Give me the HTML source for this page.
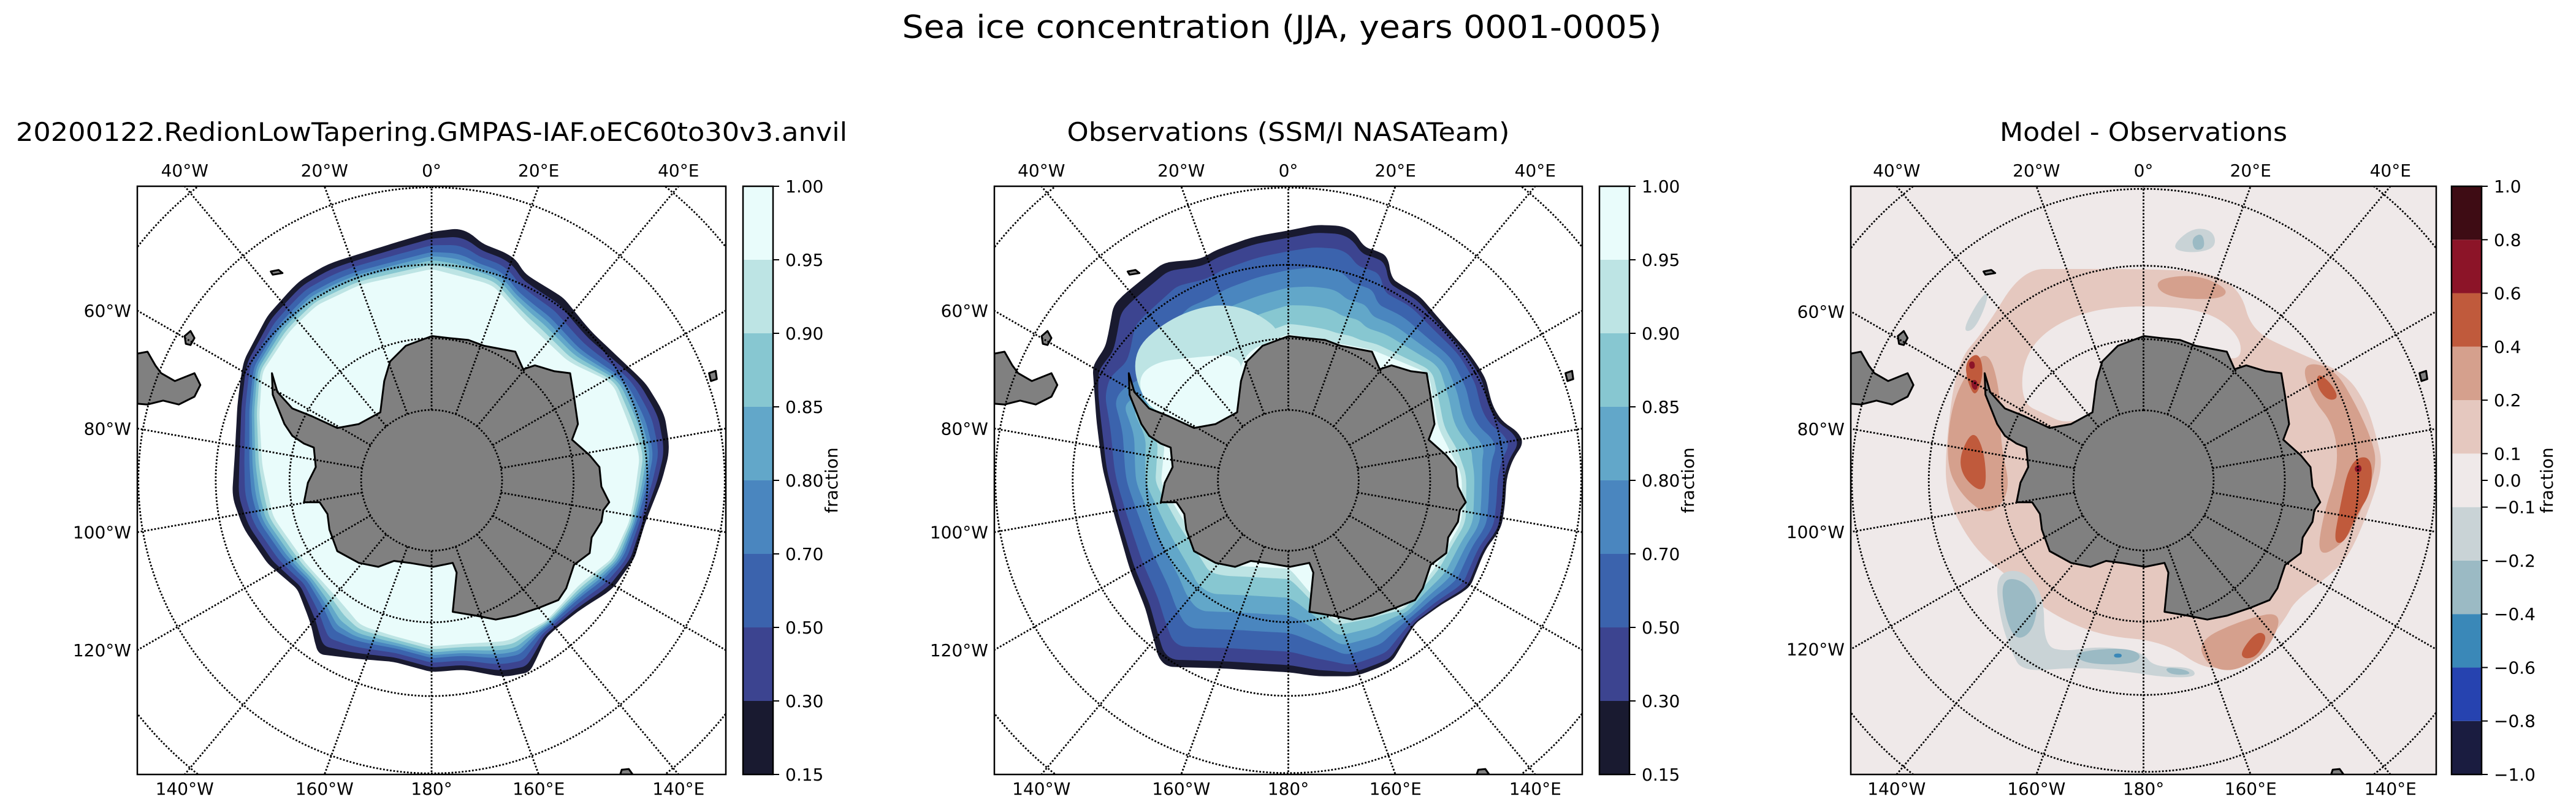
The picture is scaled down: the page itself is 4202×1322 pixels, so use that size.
<!DOCTYPE html>
<html><head><meta charset="utf-8"><style>
html,body{margin:0;padding:0;background:#fff;width:4202px;height:1322px;overflow:hidden;}
svg{display:block;font-family:"DejaVu Sans","Liberation Sans",sans-serif;}
</style></head><body>
<svg id="fig" width="4202" height="1322" viewBox="0 0 4202 1322" xmlns="http://www.w3.org/2000/svg" overflow="hidden">
<rect width="4202" height="1322" fill="#fff"/>
<text x="2091" y="62" font-size="52" text-anchor="middle" textLength="1239" lengthAdjust="spacingAndGlyphs">Sea ice concentration (JJA, years 0001-0005)</text>
<g id="panels"></g>
</svg>
<script>
// ---- data ----
const iceLevels = [0.15, 0.3, 0.5, 0.7, 0.8, 0.85, 0.9, 0.95, 1.0];
const iceLabels = ["0.15","0.30","0.50","0.70","0.80","0.85","0.90","0.95","1.00"];
const iceColors = ["#191a30","#3c4490","#3b63ad","#4a86bf","#62a7c9","#87c7d1","#bde4e4","#e9fcfb"];
const diffLevels = [-1,-0.8,-0.6,-0.4,-0.2,-0.1,0.1,0.2,0.4,0.6,0.8,1.0];
const diffColors = ["#1a1c40","#2643b0","#3a88b8","#9bbac4","#c9d3d6","#efe9e9","#e5c8bf","#d5a08d","#c05a3c","#8c1428","#3e0c14"];
const diffTickVals = [-1,-0.8,-0.6,-0.4,-0.2,-0.1,0,0.1,0.2,0.4,0.6,0.8,1.0];
const diffTickLabels = ["\u22121.0","\u22120.8","\u22120.6","\u22120.4","\u22120.2","\u22120.1","0.0","0.1","0.2","0.4","0.6","0.8","1.0"];
const latCircles = [-80,-70,-60,-50,-40];
const topLons = [-40,-20,0,20,40];
const topLabels = ["40°W","20°W","0°","20°E","40°E"];
const leftLons = [-60,-80,-100,-120];
const leftLabels = ["60°W","80°W","100°W","120°W"];
const bottomLons = [-140,-160,180,160,140];
const bottomLabels = ["140°W","160°W","180°","160°E","140°E"];
const panelTitles = ["20200122.RedionLowTapering.GMPAS-IAF.oEC60to30v3.anvil","Observations (SSM/I NASATeam)","Model - Observations"];
const titleWidths = [1356, 722, 469];
const modelBandT = [1, 0.82, 0.64, 0.46, 0.35, 0.24, 0.12, 0];
const obsBandT = [1, 0.93, 0.8, 0.62, 0.45, 0.28, 0.1, 0];

// ---- geometry (zoom frames -> normalized) ----
const F = {
  z1:[252,360,1075,1138], z8:[34,22,1504,1504], z2:[246,360,1072,1138]
};
function norm(fr, a){const f=F[fr];const o=[];for(let i=0;i<a.length;i+=2)o.push([(a[i]-f[0])/f[2],(a[i+1]-f[1])/f[3]]);return o;}

const coast = norm('z8',[787,405,830,410,880,415,920,430,1000,445,1020,490,1050,480,1100,495,1140,500,1150,560,1160,630,1145,670,1190,710,1215,740,1220,790,1240,830,1225,850,1220,880,1195,920,1190,960,1150,990,1130,1050,1110,1080,1060,1100,1000,1120,950,1130,900,1120,840,1110,845,1060,850,1010,840,985,790,995,730,985,690,980,650,995,600,985,545,955,525,900,520,860,500,830,460,830,470,780,490,740,485,690,460,680,430,660,410,630,390,580,380,555,378,500,392,548,430,590,480,610,545,640,600,630,655,600,665,520,680,470,720,430]);
const samerica = norm('z8',[34,450,60,445,80,480,95,500,130,520,180,500,195,530,180,560,140,580,100,570,60,580,34,578]);
const islands = [
  norm('z8',[155,405,170,392,180,410,170,428,158,425]),
  norm('z8',[375,240,395,236,405,244,380,248]),
  norm('z8',[1495,500,1512,494,1515,515,1500,520]),
  norm('z8',[1268,1526,1272,1514,1290,1512,1300,1526])
];
const modelOuter = norm('z1',[790,448,850,440,880,470,940,495,960,530,1030,575,1080,640,1130,690,1180,740,1215,800,1225,870,1210,930,1180,1010,1160,1080,1120,1140,1060,1180,1000,1230,970,1300,920,1310,850,1295,790,1300,720,1280,660,1275,580,1265,570,1210,545,1140,490,1090,445,1020,425,960,430,880,435,780,445,700,490,610,545,545,600,510,660,490,720,470]);
const modelInner = norm('z1',[790,520,900,550,960,620,1040,700,1120,740,1150,820,1170,880,1160,960,1150,1010,1120,1080,1060,1130,1000,1200,930,1240,850,1245,790,1250,720,1230,660,1210,620,1160,560,1090,500,1000,480,900,475,800,480,720,530,640,580,590,660,550]);
const obsOuter = norm('z8',[787,135,860,120,950,125,970,175,1040,195,1050,260,1120,300,1180,370,1250,450,1290,510,1310,590,1340,630,1400,665,1370,700,1345,760,1340,840,1330,900,1290,950,1250,1050,1180,1090,1110,1140,1050,1240,960,1275,860,1275,790,1265,700,1260,620,1255,460,1250,420,1100,380,1000,340,860,310,740,295,620,285,480,320,430,340,320,400,270,470,215,560,210,600,185,700,150]);
const obsInner = norm('z8',[787,400,1000,440,1145,500,1170,640,1230,760,1230,880,1160,1000,1080,1100,900,1130,790,1000,600,990,520,880,460,780,470,680,420,600,600,630,660,450]);
const obsLight = norm('z8',[380,450,480,360,600,320,700,340,780,405,660,450,655,600,545,645,420,590]);
const obsWhite = norm('z8',[400,510,450,470,540,460,660,450,670,520,655,600,600,630,545,640,480,610,420,580]);
const diffPatches = [
  [6, norm('z2',[780,520,900,525,960,560,980,640,1060,680,1150,720,1190,780,1210,850,1220,900,1200,970,1170,1050,1140,1100,1060,1160,1040,1200,980,1280,900,1300,820,1240,700,1230,600,1180,540,1120,470,1060,420,960,420,860,440,700,490,640,560,520,640,520])],
  [5, norm('z2',[560,700,600,640,680,600,780,590,900,600,960,650,960,700,900,680,850,660,780,650,720,690,700,760,700,800,640,820,600,800,560,780])],
  [7, norm('z2',[430,780,470,700,500,680,520,760,520,860,540,950,500,1000,450,960,420,900])],
  [7, norm('z2',[800,540,880,530,940,560,920,580,820,575])],
  [7, norm('z2',[1070,700,1130,710,1170,780,1200,850,1210,900,1180,990,1150,1050,1100,1080,1110,1000,1140,900,1130,820,1090,770])],
  [7, norm('z2',[880,1240,960,1200,1040,1180,1010,1260,950,1300,900,1290])],
  [8, norm('z2',[445,880,470,830,490,870,495,940,480,950,450,920])],
  [8, norm('z2',[455,700,480,680,490,720,475,770,460,740])],
  [8, norm('z2',[1100,720,1125,740,1140,770,1120,775,1100,750])],
  [8, norm('z2',[1160,890,1200,880,1200,950,1170,1000,1150,1050,1130,1050,1140,990])],
  [8, norm('z2',[960,1260,990,1220,1010,1230,990,1270,965,1275])],
  [9, norm('z2',[462,700,472,698,474,712,464,714])],
  [9, norm('z2',[1168,902,1180,898,1182,912,1170,914])],
  [9, norm('z2',[466,735,478,735,478,755,468,752])],
  [4, norm('z2',[510,1110,560,1100,600,1150,600,1250,640,1260,700,1250,780,1260,800,1290,870,1290,880,1310,820,1310,760,1300,660,1290,560,1300,540,1260,520,1200])],
  [4, norm('z2',[830,480,870,440,910,445,915,480,870,490])],
  [4, norm('z2',[450,640,480,580,500,560,490,600,470,640])],
  [3, norm('z2',[520,1120,560,1120,590,1160,580,1220,550,1240,530,1200])],
  [3, norm('z2',[650,1265,700,1255,760,1255,780,1270,760,1285,680,1285])],
  [3, norm('z2',[820,1290,860,1295,870,1305,830,1305])],
  [3, norm('z2',[870,460,890,450,895,480,875,485])],
  [2, norm('z2',[728,1264,742,1264,742,1272,728,1272])]
];

// ---- layout ----
const X0=[224,1622,3019], WD=[960,959,955], Y0=304, HT=960;
const CBX=[1212,2609,3999], CBW=49;
const NS='http://www.w3.org/2000/svg';
const root=document.getElementById('panels');
function el(tag,attrs,parent){const e=document.createElementNS(NS,tag);for(const k in attrs)e.setAttribute(k,attrs[k]);(parent||root).appendChild(e);return e;}
function P(p,pt){return [X0[p]+pt[0]*WD[p], Y0+pt[1]*HT];}
function pathOf(p,poly){return 'M'+poly.map(q=>P(p,q).map(v=>v.toFixed(1)).join(',')).join('L')+'Z';}
function smoothPath(p,poly){const pts=poly.map(q=>P(p,q));const n=pts.length;
  const mid=(a,b)=>[(a[0]+b[0])/2,(a[1]+b[1])/2];
  let m=mid(pts[n-1],pts[0]);let d='M'+m[0].toFixed(1)+','+m[1].toFixed(1);
  for(let i=0;i<n;i++){const c=pts[i],nm=mid(pts[i],pts[(i+1)%n]);d+='Q'+c[0].toFixed(1)+','+c[1].toFixed(1)+' '+nm[0].toFixed(1)+','+nm[1].toFixed(1);}
  return d+'Z';}
function rayDist(poly,ang){const dx=Math.cos(ang),dy=Math.sin(ang);let best=0;
  for(let i=0;i<poly.length;i++){const a=poly[i],b=poly[(i+1)%poly.length];
    const ex=b[0]-a[0],ey=b[1]-a[1];const den=dx*ey-dy*ex;if(Math.abs(den)<1e-12)continue;
    const ax=a[0]-0.5,ay=a[1]-0.5;const t=(ax*ey-ay*ex)/den;const s=(ax*dy-ay*dx)/den;
    if(t>0&&s>=0&&s<=1&&t>best)best=t;}return best;}
function bandPoly(outer,inner,t){const o=[];for(let d=0;d<360;d+=3){const a=d*Math.PI/180;const ro=rayDist(outer,a),ri=rayDist(inner,a);const r=ri+t*(ro-ri);o.push([0.5+r*Math.cos(a),0.5+r*Math.sin(a)]);}return o;}

for(let p=0;p<3;p++){
  const g=el('g',{});
  
  
  const cx=X0[p]+WD[p]/2, cy=Y0+HT/2, k=1314*WD[p]/960;
  const xa=X0[p], xb=X0[p]+WD[p], ya=Y0, yb=Y0+HT;
  const inside=(x,y)=>x>=xa-0.5&&x<=xb+0.5&&y>=ya-0.5&&y<=yb+0.5;
  const clip=el('clipPath',{id:'clip'+p},g);
  el('rect',{x:X0[p],y:Y0,width:WD[p],height:HT},clip);
  const t=el('text',{x:cx,y:230,'font-size':42,'text-anchor':'middle',textLength:titleWidths[p],lengthAdjust:'spacingAndGlyphs'},g);
  t.textContent=panelTitles[p];
  
  
  const m=el('g',{'clip-path':'url(#clip'+p+')'},g);
  
  
  el('rect',{x:X0[p],y:Y0,width:WD[p],height:HT,fill:p===2?diffColors[5]:'#fff'},m);
  if(p<2){
    const outer=p===0?modelOuter:obsOuter, inner=p===0?modelInner:obsInner, T=p===0?modelBandT:obsBandT;
    for(let i=0;i<iceColors.length;i++){
      const b=el('path',{d:smoothPath(p,bandPoly(outer,inner,T[i])),fill:iceColors[i]},m);
      
      
    }
    if(p===1){
      const l=el('path',{d:smoothPath(p,obsLight),fill:iceColors[6]},m);
      
      
      const w=el('path',{d:smoothPath(p,obsWhite),fill:iceColors[7]},m);
      
      
    }
  } else {
    diffPatches.forEach(dp=>{
      const b=el('path',{d:smoothPath(p,dp[1]),fill:diffColors[dp[0]]},m);
      
      
    });
  }
  [coast,samerica].concat(islands).forEach((poly,i)=>{
    const e=el('path',{d:pathOf(p,poly),fill:'#808080',stroke:'#000','stroke-width':3,'stroke-linejoin':'round'},m);
    
    
  });
  const gs={fill:'none',stroke:'#000','stroke-width':2.8,'stroke-dasharray':'2.8 2.8'};
  latCircles.forEach(lat=>{
    const r=k*Math.tan((90+lat)/2*Math.PI/180);
    // sample circle, keep only the part inside the map box
    let d='', pen=false;
    for(let i=0;i<=720;i++){const a=i*Math.PI/360;const x=cx+r*Math.sin(a),y=cy-r*Math.cos(a);
      if(inside(x,y)){d+=(pen?'L':'M')+x.toFixed(1)+','+y.toFixed(1);pen=true;}else pen=false;}
    const c=el('path',Object.assign({d:d},gs),m);
    
    
  });
  const r80=k*Math.tan(5*Math.PI/180);
  for(let lon=0;lon<360;lon+=20){
    const a=lon*Math.PI/180, sx=Math.sin(a), sy=-Math.cos(a);
    let tmax=1e9;
    if(sx>1e-9)tmax=Math.min(tmax,(xb-cx)/sx); if(sx<-1e-9)tmax=Math.min(tmax,(xa-cx)/sx);
    if(sy>1e-9)tmax=Math.min(tmax,(yb-cy)/sy); if(sy<-1e-9)tmax=Math.min(tmax,(ya-cy)/sy);
    const l=el('line',Object.assign({x1:cx+r80*sx,y1:cy+r80*sy,x2:cx+tmax*sx,y2:cy+tmax*sy},gs),m);
    
    
  }
  const fr=el('rect',{x:X0[p],y:Y0,width:WD[p],height:HT,fill:'none',stroke:'#000','stroke-width':2.5},g);
  
  
  topLons.forEach((lon,i)=>{const a=lon*Math.PI/180;const x=cx+(HT/2)*Math.tan(a);
    const tt=el('text',{x:x,y:288,'font-size':28,'text-anchor':'middle'},g);tt.textContent=topLabels[i];
    
    });
  bottomLons.forEach((lon,i)=>{const a=lon*Math.PI/180;const x=cx-(HT/2)*Math.tan(a);
    const tt=el('text',{x:x,y:1297,'font-size':28,'text-anchor':'middle'},g);tt.textContent=bottomLabels[i];
    
    });
  leftLons.forEach((lon,i)=>{const a=lon*Math.PI/180;const tt2=(WD[p]/2)/Math.abs(Math.sin(a));const y=cy-tt2*Math.cos(a);
    const tt=el('text',{x:X0[p]-10,y:y+10,'font-size':28,'text-anchor':'end'},g);tt.textContent=leftLabels[i];
    
    });
  const cb=el('g',{},g);
  
  
  const cols=p<2?iceColors:diffColors, n=cols.length, bh=HT/n;
  cols.forEach((c,i)=>{const r=el('rect',{x:CBX[p],y:Y0+HT-(i+1)*bh,width:CBW,height:bh,fill:c},cb);
    
    });
  el('rect',{x:CBX[p],y:Y0,width:CBW,height:HT,fill:'none',stroke:'#000','stroke-width':2.5},cb);
  const tv=p<2?iceLevels.map((v,i)=>i):diffTickVals.map(v=>{const j=diffLevels.indexOf(v);return j>=0?j:5.5;});
  const tl=p<2?iceLabels:diffTickLabels;
  tv.forEach((idx,i)=>{const y=Y0+HT-idx*bh;
    el('line',{x1:CBX[p]+CBW,x2:CBX[p]+CBW+10,y1:y,y2:y,stroke:'#000','stroke-width':2},cb);
    const tt=el('text',{x:CBX[p]+CBW+20,y:y+10,'font-size':28},cb);tt.textContent=tl[i];
    
    });
  const lx=p<2?CBX[p]+154:CBX[p]+165;
  const ft=el('text',{x:lx,y:cy,'font-size':28,'text-anchor':'middle',transform:'rotate(-90 '+lx+' '+cy+')'},cb);
  ft.textContent='fraction';
  
  
}
</script>
</body></html>
